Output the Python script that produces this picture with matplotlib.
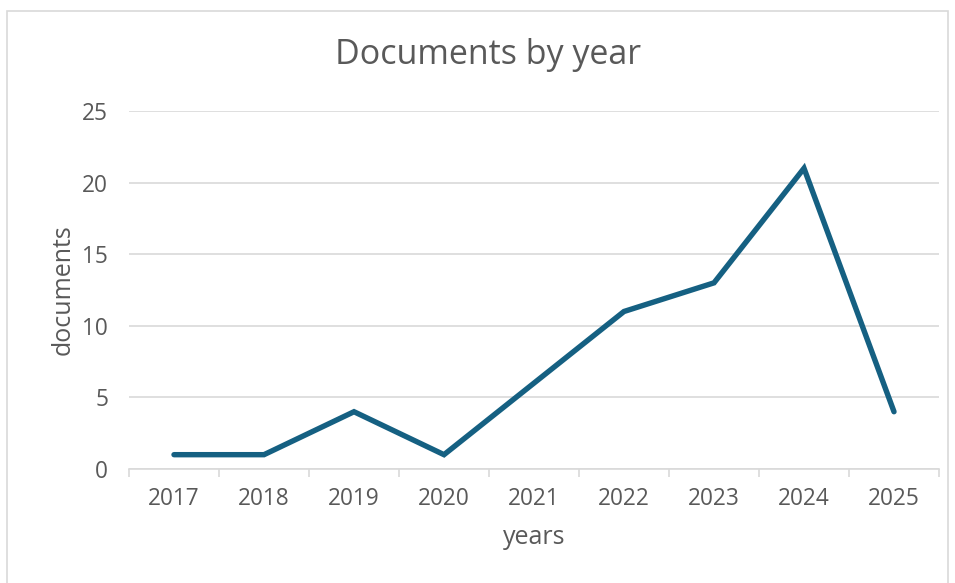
import matplotlib
matplotlib.use("Agg")
import matplotlib.pyplot as plt
from matplotlib.patches import Rectangle

years = ["2017", "2018", "2019", "2020", "2021", "2022", "2023", "2024", "2025"]
documents = [1, 1, 4, 1, 6, 11, 13, 21, 4]
y_ticks = [0, 5, 10, 15, 20, 25]

W, H = 955, 583
fig = plt.figure(figsize=(W / 100, H / 100), dpi=100)
plt.rcParams['font.family'] = ['Open Sans', 'DejaVu Sans']
text_color = "#595959"
grid_color = "#d9d9d9"
line_color = "#156082"

# chart border
fig.patches.append(Rectangle((7 / W, -0.01), (948 - 7) / W, (H - 11) / H + 0.01,
                             transform=fig.transFigure, fill=False,
                             edgecolor=grid_color, linewidth=1.2))

left, right, top, bottom = 129, 939, 111, 469
ax = fig.add_axes([left / W, (H - bottom) / H, (right - left) / W, (bottom - top) / H])

x = list(range(len(years)))
ax.plot(x, documents, color=line_color, linewidth=3.9, solid_capstyle='round',
        solid_joinstyle='miter', zorder=3)

ax.set_xlim(-0.5, len(years) - 0.5)
ax.set_ylim(0, 25)
ax.set_yticks(y_ticks)
ax.set_xticks(x)
ax.set_xticklabels(years)
ax.set_xticks([i - 0.5 for i in range(len(years) + 1)], minor=True)
ax.tick_params(axis='x', which='major', length=0, pad=13, labelsize=16.3, labelcolor=text_color)
ax.tick_params(axis='x', which='minor', length=6, width=1.2, color=grid_color)
ax.tick_params(axis='y', length=0, pad=15, labelsize=16.3, labelcolor=text_color)

for s in ['top', 'right', 'left']:
    ax.spines[s].set_visible(False)
ax.spines['bottom'].set_color(grid_color)
ax.spines['bottom'].set_linewidth(1.2)
ax.grid(axis='y', color=grid_color, linewidth=1.2, zorder=0)
ax.set_axisbelow(True)

ax.set_xlabel("years", fontsize=18, color=text_color, labelpad=10)
ax.set_ylabel("documents", fontsize=18, color=text_color, labelpad=5)

fig.text(488 / W, 1 - 55 / H, "Documents by year", ha='center', va='center',
         fontsize=24.5, color=text_color)

fig.savefig("out.png", dpi=100)
